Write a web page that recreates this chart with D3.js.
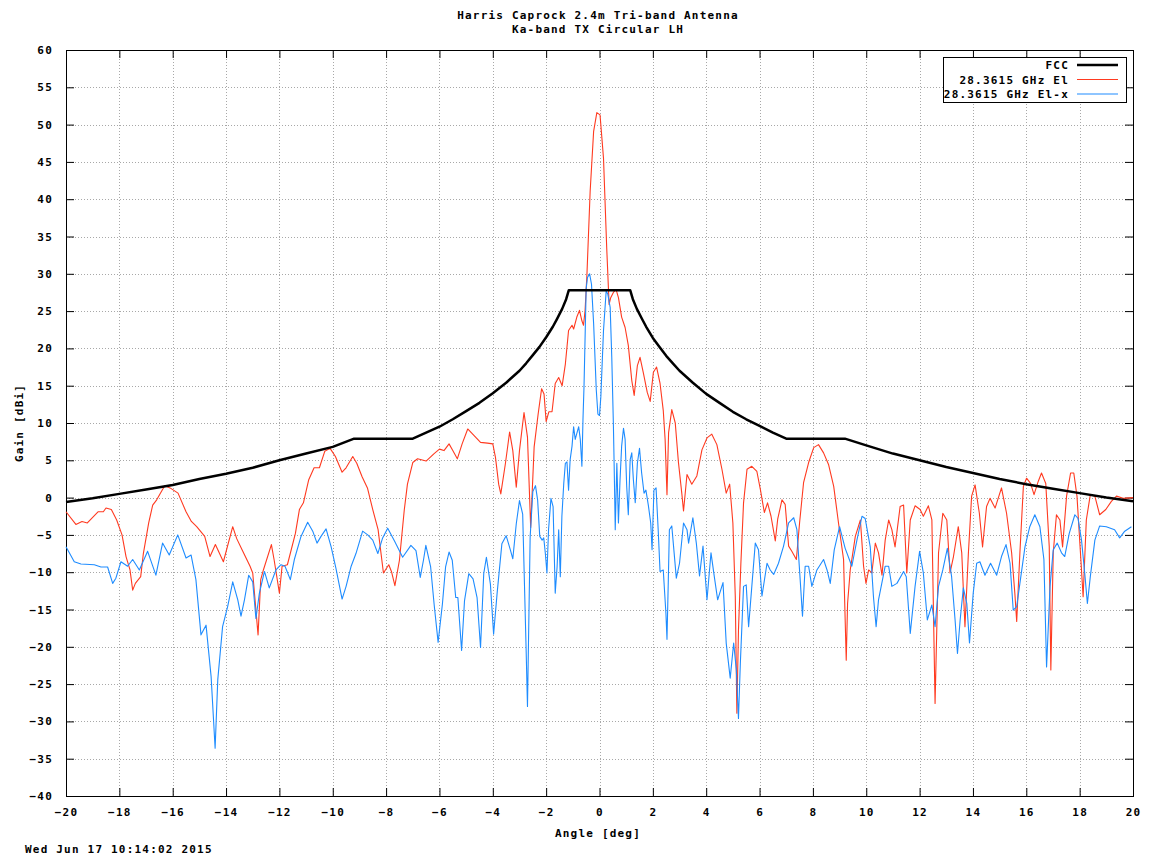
<!DOCTYPE html>
<html>
<head>
<meta charset="utf-8">
<script src="https://cdn.jsdelivr.net/npm/d3@7"></script>
<style>
    body { margin: 0; background: #fff; }
    text { font-family: "DejaVu Sans Mono", "Liberation Mono", monospace; font-weight: bold; font-size: 11px; letter-spacing: 1.2px; fill: #000; }
</style>
</head>
<body>
<svg id="chart" width="1151" height="860"></svg>
<script>
let titleLines = ["Harris Caprock 2.4m Tri-band Antenna", "Ka-band TX Circular LH"];
let seriesNames = ["FCC", "28.3615 GHz El", "28.3615 GHz El-x"];
let seriesColors = ["#000000", "#ff3a20", "#1e8cff"];
let xTicks = d3.range(-20, 21, 2);
let yTicks = d3.range(-40, 61, 5);
let stamp = "Wed Jun 17 10:14:02 2015";

// FCC mask
let fccAngle = [-20, -19, -18, -17, -16, -15, -14, -13, -12, -11, -10, -9.2, -7, -6.5, -6, -5.5, -5, -4.5, -4, -3.5, -3, -2.75, -2.5, -2.25, -2, -1.75, -1.6, -1.4, -1.25, -1.15,
    1.15, 1.25, 1.4, 1.6, 1.75, 2, 2.25, 2.5, 2.75, 3, 3.5, 4, 4.5, 5, 5.5, 6, 6.5, 7, 9.2, 10, 11, 12, 13, 14, 15, 16, 17, 18, 19, 20];
let fccGain = [-0.6, -0.1, 0.5, 1.1, 1.7, 2.5, 3.2, 4.0, 5.0, 5.9, 6.8, 7.9, 7.9, 8.7, 9.5, 10.5, 11.6, 12.7, 14.0, 15.4, 17.0, 18.0, 19.1, 20.2, 21.5, 22.9, 23.9, 25.3, 26.6, 27.8,
    27.8, 26.6, 25.3, 23.9, 22.9, 21.4, 20.2, 19.0, 18.0, 17.0, 15.4, 13.9, 12.7, 11.5, 10.5, 9.6, 8.7, 7.9, 7.9, 7.0, 5.9, 5.0, 4.1, 3.3, 2.5, 1.8, 1.2, 0.6, 0.0, -0.5];

// co-pol (El)
let elAngle = [-20, -19.63, -19.4, -19.2, -18.8, -18.6, -18.5, -18.3, -18.1, -17.9, -17.75, -17.6, -17.5, -17.4, -17.2, -17.1,
    -16.9, -16.75, -16.6, -16.3, -16.1, -15.8, -15.5, -15.3, -15.1, -14.8, -14.6, -14.4, -14.1, -13.75, -13.6, -13.4,
    -13.1, -13.0, -12.8, -12.7, -12.6, -12.3, -12.2, -12.0, -11.9, -11.7, -11.4, -11.25, -11.1, -10.9, -10.7, -10.5,
    -10.3, -10.1, -9.9, -9.65, -9.5, -9.25, -9.1, -8.9, -8.7, -8.5, -8.3, -8.1, -7.9, -7.8, -7.67, -7.5,
    -7.32, -7.2, -7.0, -6.82, -6.5, -6.2, -6.0, -5.83, -5.64, -5.5, -5.33, -5.15, -4.94, -4.7, -4.46, -4.2,
    -4.0, -3.9, -3.78, -3.7, -3.53, -3.37, -3.25, -3.12, -3.0, -2.83, -2.7, -2.58, -2.45, -2.3, -2.17, -2.08,
    -2.0, -1.9, -1.78, -1.66, -1.53, -1.4, -1.28, -1.16, -1.03, -0.97, -0.85, -0.75, -0.66, -0.6, -0.54, -0.47,
    -0.35, -0.22, -0.1, 0.02, 0.15, 0.27, 0.36, 0.42, 0.52, 0.62, 0.71, 0.83, 0.96, 1.08, 1.21, 1.3,
    1.42, 1.52, 1.64, 1.79, 1.9, 2.02, 2.14, 2.27, 2.39, 2.46, 2.53, 2.59, 2.71, 2.84, 2.96, 3.09,
    3.15, 3.28, 3.46, 3.65, 3.84, 4.03, 4.21, 4.4, 4.59, 4.75, 4.88, 5.0, 5.09, 5.15, 5.21, 5.3,
    5.4, 5.53, 5.71, 5.9, 6.03, 6.18, 6.3, 6.43, 6.59, 6.68, 6.84, 6.96, 7.09, 7.21, 7.38, 7.5,
    7.65, 7.84, 8.03, 8.21, 8.4, 8.59, 8.78, 8.96, 9.15, 9.25, 9.3, 9.4, 9.59, 9.78, 9.9, 9.99,
    10.09, 10.21, 10.34, 10.46, 10.59, 10.71, 10.84, 10.96, 11.08, 11.27, 11.4, 11.52, 11.65, 11.83, 12.02, 12.14,
    12.33, 12.46, 12.58, 12.71, 12.87, 13.02, 13.14, 13.27, 13.45, 13.58, 13.7, 13.83, 13.95, 14.08, 14.24, 14.36,
    14.51, 14.64, 14.83, 15.07, 15.26, 15.45, 15.57, 15.64, 15.76, 15.89, 16.01, 16.16, 16.29, 16.45, 16.57, 16.73,
    16.86, 16.92, 17.01, 17.13, 17.26, 17.36, 17.51, 17.66, 17.78, 17.9, 18.03, 18.13, 18.25, 18.4, 18.57, 18.75,
    18.98, 19.19, 19.38, 19.63, 20.0];
let elGain = [-1.9, -3.6, -3.2, -3.4, -1.9, -1.9, -1.4, -1.6, -3.0, -5.0, -7.9, -9.7, -12.4, -11.5, -10.6, -7.5,
    -3.4, -1.0, -0.3, 1.6, 1.3, 0.6, -1.9, -3.2, -3.9, -5.2, -7.9, -6.3, -8.6, -3.9, -5.5, -7.0,
    -9.2, -10.1, -18.4, -11.0, -9.7, -6.3, -8.3, -12.8, -9.2, -9.0, -4.8, -1.6, -0.7, 2.4, 4.0, 4.0,
    6.2, 6.6, 5.5, 3.4, 4.0, 5.5, 4.6, 2.8, 1.3, -1.6, -4.3, -10.1, -9.0, -9.9, -11.8, -8.4,
    -1.7, 1.8, 4.7, 5.2, 4.9, 5.9, 6.5, 6.3, 7.2, 6.3, 5.2, 7.2, 9.2, 8.3, 7.4, 7.3,
    7.2, 5.4, 1.8, 0.5, 4.5, 8.8, 6.3, 1.4, 6.3, 11.4, 8.1, -4.0, 6.8, 11.2, 14.6, 13.9,
    10.2, 11.5, 11.5, 15.3, 16.1, 15.0, 17.9, 22.4, 23.1, 22.6, 24.2, 25.1, 23.7, 23.1, 25.1, 30.0,
    41.1, 49.1, 51.6, 51.3, 45.5, 33.5, 25.9, 26.8, 27.5, 27.9, 26.8, 24.2, 22.8, 20.4, 15.7, 13.7,
    17.7, 18.8, 16.8, 14.1, 12.9, 16.8, 17.5, 15.3, 11.7, 7.8, 0.4, 8.7, 11.8, 10.0, 4.7, 0.4,
    -1.8, 3.1, 1.8, 2.9, 6.4, 8.0, 8.5, 7.1, 3.8, 0.6, 1.8, -3.4, -13.2, -28.9, -17.7, -8.8,
    -0.7, 3.8, 4.2, 3.5, 1.1, -2.0, -0.7, -2.5, -5.8, -2.9, -0.3, -0.9, -6.5, -7.2, -8.3, -3.4,
    2.0, 4.7, 6.7, 7.1, 6.0, 4.4, 1.5, -3.4, -8.3, -21.8, -14.2, -9.7, -5.2, -3.0, -9.2, -11.5,
    -9.7, -10.1, -6.1, -7.4, -10.4, -5.7, -3.0, -4.3, -6.6, -1.2, -1.0, -10.1, -3.0, -1.1, -1.6, -2.5,
    -1.1, -3.0, -27.6, -7.4, -2.1, -3.0, -10.1, -7.9, -3.9, -7.4, -17.3, -7.4, 0.2, 1.7, -2.1, -6.6,
    -1.2, -0.1, -1.4, 1.3, -2.1, -7.4, -12.8, -16.6, -7.4, 1.5, 2.6, 1.9, 0.4, 2.2, 3.3, 1.9,
    -6.6, -23.1, -7.4, -2.3, -3.0, -6.6, 0.2, 3.3, 3.3, 0.2, -7.4, -13.3, -3.0, 0.4, 0.2, -2.3,
    -1.6, -0.5, 0.2, -0.1, 0.0];

// cross-pol (El-x)
let xAngle = [-20, -19.69, -19.44, -18.94, -18.69, -18.44, -18.25, -18.13, -17.94, -17.69, -17.5, -17.25, -16.94, -16.63, -16.38, -16.13,
    -15.81, -15.5, -15.31, -15.13, -14.94, -14.75, -14.56, -14.41, -14.31, -14.13, -13.94, -13.75, -13.56, -13.44, -13.31, -13.15,
    -13.0, -12.88, -12.75, -12.56, -12.38, -12.13, -11.94, -11.79, -11.59, -11.44, -11.19, -10.94, -10.75, -10.59, -10.44, -10.25,
    -10.06, -9.88, -9.65, -9.5, -9.31, -9.13, -8.88, -8.69, -8.5, -8.31, -8.13, -7.94, -7.69, -7.38, -7.07, -6.88,
    -6.72, -6.6, -6.51, -6.33, -6.2, -6.05, -5.89, -5.77, -5.64, -5.52, -5.39, -5.31, -5.17, -5.06, -4.9, -4.74,
    -4.59, -4.46, -4.34, -4.24, -4.09, -3.97, -3.84, -3.66, -3.5, -3.35, -3.25, -3.12, -3.0, -2.88, -2.75, -2.7,
    -2.6, -2.5, -2.4, -2.32, -2.24, -2.15, -2.09, -2.03, -1.97, -1.91, -1.82, -1.74, -1.69, -1.66, -1.59, -1.53,
    -1.47, -1.41, -1.34, -1.28, -1.22, -1.16, -1.1, -1.03, -0.97, -0.91, -0.85, -0.78, -0.72, -0.66, -0.62, -0.58,
    -0.5, -0.45, -0.37, -0.3, -0.22, -0.12, -0.06, 0.0, 0.05, 0.15, 0.25, 0.31, 0.4, 0.46, 0.52, 0.55,
    0.59, 0.65, 0.71, 0.77, 0.83, 0.9, 0.96, 1.02, 1.08, 1.15, 1.21, 1.27, 1.34, 1.42, 1.5, 1.58,
    1.67, 1.74, 1.83, 1.92, 1.97, 2.04, 2.12, 2.2, 2.27, 2.39, 2.49, 2.53, 2.58, 2.62, 2.71, 2.88,
    3.0, 3.15, 3.28, 3.34, 3.5, 3.63, 3.75, 3.88, 4.03, 4.18, 4.3, 4.43, 4.63, 4.75, 4.9, 5.03,
    5.13, 5.21, 5.28, 5.4, 5.5, 5.59, 5.71, 5.84, 5.96, 6.09, 6.28, 6.4, 6.53, 6.71, 6.9, 7.09,
    7.28, 7.4, 7.53, 7.61, 7.71, 7.84, 7.96, 8.15, 8.4, 8.53, 8.65, 8.8, 9.0, 9.21, 9.46, 9.65,
    9.84, 9.96, 10.15, 10.27, 10.37, 10.46, 10.71, 10.84, 10.96, 11.15, 11.4, 11.5, 11.65, 11.83, 12.0, 12.14,
    12.29, 12.46, 12.58, 12.71, 12.87, 13.04, 13.2, 13.33, 13.42, 13.52, 13.64, 13.77, 13.87, 14.01, 14.14, 14.26,
    14.45, 14.66, 14.89, 15.07, 15.24, 15.39, 15.51, 15.64, 15.76, 15.95, 16.13, 16.32, 16.51, 16.66, 16.76, 16.89,
    17.01, 17.16, 17.32, 17.44, 17.61, 17.82, 17.94, 18.07, 18.19, 18.29, 18.4, 18.57, 18.75, 19.0, 19.31, 19.5,
    19.69, 19.94];
let xGain = [-6.6, -8.6, -8.9, -9.0, -9.3, -9.3, -11.5, -10.8, -8.6, -9.2, -8.3, -9.7, -7.2, -10.4, -6.1, -7.7,
    -5.0, -8.1, -7.7, -11.0, -18.4, -17.1, -24.0, -33.6, -24.4, -17.3, -14.6, -11.3, -13.7, -15.9, -13.7, -10.4,
    -11.3, -16.2, -12.8, -9.9, -12.1, -9.7, -9.0, -9.2, -11.0, -8.3, -5.2, -3.3, -4.5, -6.1, -5.2, -4.2,
    -6.6, -9.5, -13.6, -11.9, -9.2, -7.5, -4.5, -5.0, -5.7, -7.5, -5.4, -4.1, -5.8, -8.0, -6.4, -7.1,
    -10.7, -8.4, -6.4, -9.3, -14.3, -19.4, -14.3, -9.3, -7.3, -8.4, -13.4, -13.4, -20.5, -13.8, -10.2, -10.9,
    -13.4, -20.1, -10.2, -8.0, -11.6, -18.3, -12.9, -6.2, -5.1, -6.9, -8.2, -3.5, -0.4, -2.2, -20.5, -28.0,
    -5.3, 0.8, 1.6, -0.3, -5.2, -5.7, -5.4, -7.5, -10.1, -4.3, -0.1, -1.2, -8.4, -12.8, -9.3, -4.3,
    -10.6, -2.5, 1.9, 4.6, 4.8, 1.0, 5.1, 6.9, 9.5, 7.8, 8.6, 9.5, 7.8, 4.2, 10.4, 15.0,
    28.0, 29.5, 30.0, 28.6, 23.3, 14.4, 11.2, 11.0, 13.5, 22.4, 27.7, 27.3, 25.5, 18.8, 9.9, 4.2,
    -4.3, 4.6, -3.4, 2.4, 6.9, 9.3, 7.8, 1.5, -2.3, 5.1, 6.0, 2.4, -0.7, 4.6, 6.6, 3.3,
    0.6, 1.0, -1.0, -3.4, -7.0, 1.0, 1.3, -4.3, -9.9, -9.7, -15.5, -19.0, -11.0, -4.3, -3.8, -10.8,
    -8.8, -3.4, -4.3, -6.1, -2.7, -6.1, -10.5, -6.5, -13.7, -7.4, -10.5, -13.7, -11.4, -19.5, -24.2, -19.5,
    -23.1, -29.6, -22.2, -11.9, -11.7, -17.3, -11.9, -6.1, -7.0, -13.2, -8.8, -9.7, -10.3, -8.8, -6.5, -3.4,
    -2.7, -4.3, -11.4, -15.9, -9.2, -9.2, -11.9, -9.7, -8.3, -9.7, -11.5, -7.0, -3.9, -6.8, -9.2, -5.7,
    -2.5, -2.8, -6.6, -13.3, -17.3, -13.7, -9.2, -9.2, -11.9, -11.5, -9.9, -10.6, -18.2, -11.9, -7.2, -10.1,
    -16.4, -14.4, -17.3, -11.9, -9.7, -6.8, -10.6, -16.4, -20.9, -16.4, -12.1, -14.2, -19.5, -12.8, -8.8, -8.6,
    -10.4, -8.8, -10.4, -7.9, -6.3, -8.8, -15.1, -14.6, -11.5, -6.6, -3.9, -2.3, -3.9, -8.3, -22.7, -11.9,
    -7.0, -6.1, -7.4, -7.9, -4.8, -2.3, -2.8, -5.7, -10.1, -14.2, -10.6, -5.7, -3.8, -3.9, -4.3, -5.4,
    -4.5, -3.9];

let plot = { left: 66, right: 1133, top: 50, bottom: 796 };

let svg = d3.select("#chart");
let x = d3.scaleLinear().domain([-20, 20]).range([plot.left, plot.right]);
let y = d3.scaleLinear().domain([-40, 60]).range([plot.bottom, plot.top]);

// dotted grid
let grid = svg.append("g");
grid.selectAll(".gx").data(xTicks.filter(d => d > -20 && d < 20)).enter().append("line")
    .attr("x1", d => Math.round(x(d)) + 0.5).attr("x2", d => Math.round(x(d)) + 0.5)
    .attr("y1", plot.top).attr("y2", plot.bottom)
    .attr("stroke", "#a8a8a8").attr("stroke-dasharray", "1,2");
grid.selectAll(".gy").data(yTicks.filter(d => d > -40 && d < 60)).enter().append("line")
    .attr("y1", d => Math.round(y(d)) + 0.5).attr("y2", d => Math.round(y(d)) + 0.5)
    .attr("x1", plot.left).attr("x2", plot.right)
    .attr("stroke", "#a8a8a8").attr("stroke-dasharray", "1,2");

// axes (inward ticks, mirrored on top/right)
let xAxisB = d3.axisBottom(x).tickValues(xTicks).tickSize(-8).tickPadding(12).tickFormat(d3.format("d"));
let xAxisT = d3.axisTop(x).tickValues(xTicks).tickSize(-8).tickFormat("");
let yAxisL = d3.axisLeft(y).tickValues(yTicks).tickSize(-8).tickPadding(13).tickFormat(d3.format("d"));
let yAxisR = d3.axisRight(y).tickValues(yTicks).tickSize(-8).tickFormat("");

function styleAxis(g) {
    g.select(".domain").remove();
    g.selectAll(".tick line").attr("stroke", "#000");
    g.selectAll("text").attr("font-family", null).attr("font-size", null);
}
svg.append("g").attr("transform", `translate(0,${plot.bottom})`).call(xAxisB).call(styleAxis)
    .selectAll("text").attr("dy", "0.75em");
svg.append("g").attr("transform", `translate(0,${plot.top})`).call(xAxisT).call(styleAxis);
svg.append("g").attr("transform", `translate(${plot.left},0)`).call(yAxisL).call(styleAxis);
svg.append("g").attr("transform", `translate(${plot.right},0)`).call(yAxisR).call(styleAxis);

// border
svg.append("rect")
    .attr("x", plot.left + 0.5).attr("y", plot.top + 0.5)
    .attr("width", plot.right - plot.left).attr("height", plot.bottom - plot.top)
    .attr("fill", "none").attr("stroke", "#000");

// series
let line = d3.line().x(d => x(d[0])).y(d => y(d[1]));
let series = [
    { pts: d3.zip(elAngle, elGain), color: seriesColors[1], w: 1.1 },
    { pts: d3.zip(xAngle, xGain), color: seriesColors[2], w: 1.1 },
    { pts: d3.zip(fccAngle, fccGain), color: seriesColors[0], w: 2.5 }
];
svg.append("g").selectAll("path").data(series).enter().append("path")
    .attr("d", d => line(d.pts))
    .attr("fill", "none")
    .attr("stroke", d => d.color)
    .attr("stroke-width", d => d.w)
    .attr("stroke-linejoin", "round");

// legend
let lg = svg.append("g");
lg.append("rect").attr("x", 943.5).attr("y", 57.5).attr("width", 183).attr("height", 45)
    .attr("fill", "#fff").attr("stroke", "#000");
seriesNames.forEach((name, i) => {
    let yy = 65 + i * 14.5;
    lg.append("text").attr("x", 1069).attr("y", yy + 4).attr("text-anchor", "end").text(name);
    lg.append("line").attr("x1", 1077).attr("x2", 1118).attr("y1", yy).attr("y2", yy)
        .attr("stroke", seriesColors[i]).attr("stroke-width", i == 0 ? 2.5 : 1.1);
});

// titles and labels
svg.selectAll(".title").data(titleLines).enter().append("text")
    .attr("x", 598).attr("y", (d, i) => 19 + i * 14)
    .attr("text-anchor", "middle").text(d => d);
svg.append("text").attr("x", 598).attr("y", 837).attr("text-anchor", "middle").text("Angle [deg]");
svg.append("text").attr("transform", "translate(23,423) rotate(-90)").attr("text-anchor", "middle").text("Gain [dBi]");
svg.append("text").attr("x", 25).attr("y", 853).text(stamp);
</script>
</body>
</html>
